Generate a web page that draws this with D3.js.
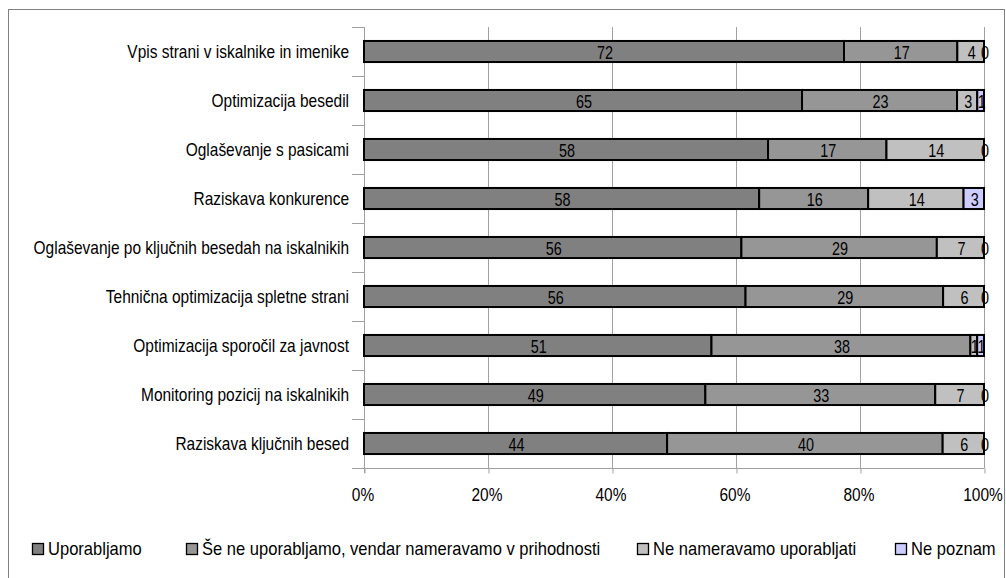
<!DOCTYPE html>
<html><head><meta charset="utf-8">
<script src="https://cdn.jsdelivr.net/npm/d3@7"></script>
<style>body{margin:0;background:#fff}svg{display:block}text{font-family:"Liberation Sans",Arial,sans-serif;fill:#000}</style>
</head><body>
<svg id="c" width="1006" height="578"></svg>
<script>
const categories = [
  "Vpis strani v iskalnike in imenike",
  "Optimizacija besedil",
  "Oglaševanje s pasicami",
  "Raziskava konkurence",
  "Oglaševanje po ključnih besedah na iskalnikih",
  "Tehnična optimizacija spletne strani",
  "Optimizacija sporočil za javnost",
  "Monitoring pozicij na iskalnikih",
  "Raziskava ključnih besed"
];
const seriesNames = [
  "Uporabljamo",
  "Še ne uporabljamo, vendar nameravamo v prihodnosti",
  "Ne nameravamo uporabljati",
  "Ne poznam"
];
const uporabljamo = [72, 65, 58, 58, 56, 56, 51, 49, 44];
const seNe        = [17, 23, 17, 16, 29, 29, 38, 33, 40];
const neNameravamo= [4, 3, 14, 14, 7, 6, 1, 7, 6];
const nePoznam    = [0, 1, 0, 3, 0, 0, 1, 0, 0];
const tickLabels = ["0%", "20%", "40%", "60%", "80%", "100%"];
const colors = ["#808080", "#969696", "#c0c0c0", "#ccccff"];

const FS = 18, SX = 0.86;
const svg = d3.select("#c");
const L = 364, R = 984, T = 27, B = 468;

function place(sel, fx, fy, sx) {
  sel.attr("x", 0).attr("y", 0).attr("font-size", FS)
    .attr("transform", (d, i) => `translate(${fx(d, i)},${fy(d, i)}) scale(${sx || SX},1)`);
}

// outer frame
svg.append("rect").attr("x", 8.5).attr("y", 9.5).attr("width", 996).attr("height", 580)
  .attr("fill", "none").attr("stroke", "#808080");

const x = d3.scaleLinear().domain([0, 1]).range([L, R]);
const y = d3.scaleBand().domain(categories).range([T, B]).paddingInner(0.57).paddingOuter(0.285);

// gridlines
svg.append("g").selectAll("line").data(d3.range(0, 1.0001, 0.2)).join("line")
  .attr("x1", d => Math.round(x(d)) + 0.5).attr("x2", d => Math.round(x(d)) + 0.5)
  .attr("y1", T).attr("y2", B).attr("stroke", "#a0a0a0").attr("stroke-width", 1);

// y axis
const yAxisBand = d3.scaleLinear().domain([0, categories.length]).range([T, B]);
svg.append("line").attr("x1", L + 0.5).attr("x2", L + 0.5).attr("y1", T).attr("y2", B + 5).attr("stroke", "#a0a0a0");
svg.append("g").selectAll("line").data(d3.range(0, categories.length + 1)).join("line")
  .attr("x1", L - 12).attr("x2", L).attr("y1", d => Math.round(yAxisBand(d)) + 0.5).attr("y2", d => Math.round(yAxisBand(d)) + 0.5)
  .attr("stroke", "#a0a0a0");

// x axis
const xAxis = d3.axisBottom(x).tickValues(d3.range(0, 1.0001, 0.2)).tickSize(5).tickFormat((d, i) => tickLabels[i]);
const gx = svg.append("g").attr("transform", `translate(0.5,${B + 0.5})`).call(xAxis);
gx.select(".domain").attr("stroke", "#a0a0a0").attr("d", `M${L},0H${R}`);
gx.selectAll(".tick line").attr("stroke", "#a0a0a0");
gx.selectAll(".tick text").attr("dy", "0").attr("fill", "#000")
  .attr("font-family", "Liberation Sans, Arial, sans-serif")
  .call(place, () => -2, () => 32);

// category labels
svg.append("g").selectAll("text").data(categories).join("text")
  .attr("text-anchor", "end").text(d => d)
  .call(place, () => 349, d => y(d) + y.bandwidth() / 2 + 6.5);

// stacked data
const rows = categories.map((c, i) => {
  const v = [uporabljamo[i], seNe[i], neNameravamo[i], nePoznam[i]];
  const tot = d3.sum(v);
  let acc = 0;
  return v.map((val, k) => { const s = { cat: c, k, val, x0: acc / tot, x1: (acc + val) / tot }; acc += val; return s; });
});
const segs = rows.flat();

svg.append("g").selectAll("rect").data(segs.filter(s => s.val > 0)).join("rect")
  .attr("x", s => x(s.x0)).attr("width", s => x(s.x1) - x(s.x0))
  .attr("y", s => y(s.cat)).attr("height", y.bandwidth())
  .attr("fill", s => colors[s.k]).attr("stroke", "#000").attr("stroke-width", 2);

svg.append("g").selectAll("text").data(segs).join("text")
  .attr("text-anchor", "middle").text(s => s.val)
  .call(place, s => (x(s.x0) + x(s.x1)) / 2 + 1, s => y(s.cat) + y.bandwidth() / 2 + 7, 0.8);

// legend
const legendX = [32, 186, 637, 895];
const lg = svg.append("g").selectAll("g").data(seriesNames).join("g")
  .attr("transform", (d, i) => `translate(${legendX[i]},543)`);
lg.append("rect").attr("x", 0.5).attr("y", 0.5).attr("width", 11).attr("height", 11)
  .attr("fill", (d, i) => colors[i]).attr("stroke", "#000").attr("stroke-width", 1.3);
lg.append("text").text(d => d).call(place, () => 16, () => 12, 0.92);
</script>
</body></html>
